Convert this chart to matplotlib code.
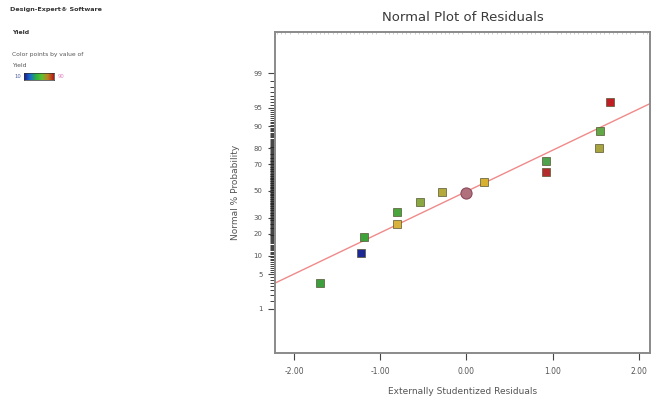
from statistics import NormalDist

import numpy as np
import matplotlib.pyplot as plt
from matplotlib.colors import LinearSegmentedColormap

# residuals, with their normal % probability
residuals = [-1.70, -1.22, -1.19, -0.81, -0.80, -0.54, -0.28, 0.00, 0.20,
             0.92, 0.92, 1.54, 1.55, 1.67]
probability = [3.5, 11.0, 18.1, 25.8, 33.9, 41.2, 49.0, 48.7, 57.3,
               72.5, 64.6, 80.0, 88.3, 96.0]
point_colors = ['#3c9e3c', '#1c2896', '#3ea43a', '#d8b23a', '#4aa53c', '#8aa842',
                '#b4aa3c', '#b0707c', '#d8b030', '#4ea44c', '#b42c2c', '#a8a440',
                '#62a846', '#c01e24']
point_markers = ['s'] * 7 + ['o'] + ['s'] * 6

# fitted line (z = slope * x + intercept)
line_slope = 0.815
line_intercept = -0.01

prob_ticks = [1, 5, 10, 20, 30, 50, 70, 80, 90, 95, 99]
x_ticks = [-2, -1, 0, 1, 2]
x_tick_labels = ['-2.00', '-1.00', '0.00', '1.00', '2.00']

nd = NormalDist()
def z(p):
    return nd.inv_cdf(p / 100.0)

fig = plt.figure(figsize=(6.52, 4.04), dpi=100)
fig.patch.set_facecolor('white')

# side panel text
fig.text(0.015, 0.983, 'Design-Expert\u00ae Software', fontsize=4.6, weight='bold',
         color='#333333', va='top')
fig.text(0.018, 0.925, 'Yield', fontsize=4.4, weight='bold', color='#333333', va='top')
fig.text(0.018, 0.872, 'Color points by value of', fontsize=4.3, color='#555555', va='top')
fig.text(0.018, 0.845, 'Yield', fontsize=4.3, color='#555555', va='top')
cax = fig.add_axes([0.037, 0.803, 0.046, 0.016])
cmap = LinearSegmentedColormap.from_list('de', ['#1a1a8c', '#1a6ad0', '#2ab040', '#60c030',
                                                '#c08020', '#b01818'])
cax.imshow(np.linspace(0, 1, 100).reshape(1, -1), aspect='auto', cmap=cmap)
cax.set_xticks([])
cax.set_yticks([])
for s in cax.spines.values():
    s.set_color('#333333')
    s.set_linewidth(0.5)
fig.text(0.033, 0.811, '10', fontsize=3.8, color='#5060a0', ha='right', va='center')
fig.text(0.088, 0.811, '90', fontsize=3.8, color='#e080c0', ha='left', va='center')

ax = fig.add_axes([0.4218, 0.1262, 0.5752, 0.7946])
ax.set_xlim(-2.22, 2.13)
ax.set_ylim(-3.2, 3.14)

zz = [z(p) for p in probability]
for x, y, c, m in zip(residuals, zz, point_colors, point_markers):
    if m == 'o':
        ax.plot(x, y, marker='o', ms=8, mfc=c, mec='#8a4a5a', mew=0.8, ls='none', zorder=3)
    else:
        ax.plot(x, y, marker='s', ms=5.4, mfc=c, mec='#555533', mew=0.5, ls='none', zorder=3)

xl = np.array(ax.get_xlim())
ax.plot(xl, line_slope * xl + line_intercept, color='#f08a8a', lw=1.0, zorder=2)

ax.set_yticks([z(p) for p in prob_ticks])
ax.set_yticklabels([str(p) for p in prob_ticks])
minor_p = [p for p in np.arange(1, 99.5, 0.5) if p not in prob_ticks]
ax.set_yticks([z(p) for p in minor_p], minor=True)
ax.set_xticks(x_ticks)
ax.set_xticklabels(x_tick_labels)
ax.set_xticks(np.arange(-2.2, 2.15, 0.05), minor=True)

ax.tick_params(axis='y', which='major', direction='out', length=5, width=0.8,
               colors='#444444', labelsize=5, labelcolor='#555555', pad=4)
ax.tick_params(axis='y', which='minor', direction='out', length=3.5, width=0.6,
               colors='#222222')
ax.tick_params(axis='x', which='major', direction='out', length=5, width=0.8,
               colors='#444444', labelsize=5.5, labelcolor='#555555', pad=5)
ax.tick_params(axis='x', which='minor', bottom=False, top=True, direction='in',
               length=1.5, width=0.4, colors='#aaaaaa')

for s in ax.spines.values():
    s.set_color('#8a8a8a')
    s.set_linewidth(1.4)

ax.set_title('Normal Plot of Residuals', fontsize=9.5, color='#3a3a3a', pad=8)
ax.set_ylabel('Normal % Probability', fontsize=6.5, color='#555555', labelpad=10)
ax.set_xlabel('Externally Studentized Residuals', fontsize=6.5, color='#555555', labelpad=8)

fig.savefig('out.png', dpi=100, facecolor='white')
